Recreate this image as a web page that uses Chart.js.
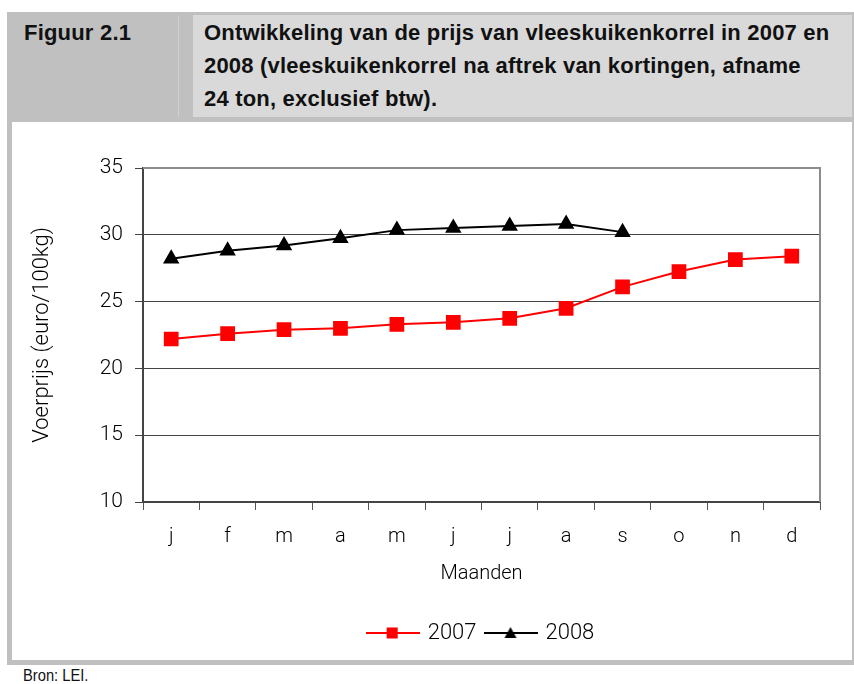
<!DOCTYPE html>
<html lang="nl">
<head>
<meta charset="UTF-8">
<title>Figuur 2.1</title>
<script src="https://cdn.jsdelivr.net/npm/chart.js"></script>
<style>
    body {
        margin: 0;
        padding: 0;
        background: white;
        width: 854px;
        height: 684px;
        position: relative;
        overflow: hidden;
        font-family: "Liberation Sans", Arial, sans-serif;
    }
    .frame {
        position: absolute;
        left: 7px;
        top: 12px;
        width: 847px;
        height: 653px;
        background: #c0c0c0;
    }
    .nr {
        position: absolute;
        left: 8px;
        top: 15px;
        width: 170px;
        height: 102px;
        background: #c0c0c0;
        border-right: 1px solid #d0d0d0;
    }
    .title-cell {
        position: absolute;
        left: 193px;
        top: 15px;
        width: 659px;
        height: 102px;
        background: #d9d9d9;
    }
    .nr span, .title-cell span {
        position: absolute;
        top: 1px;
        font-weight: bold;
        font-size: 22px;
        line-height: 33px;
        color: #111;
    }
    .nr span { left: 16px; letter-spacing: 0.2px; }
    .title-cell span { left: 11px; letter-spacing: 0.2px; white-space: nowrap; }
    .white {
        position: absolute;
        left: 12px;
        top: 122px;
        width: 840px;
        height: 538px;
        background: white;
    }
    .chart-box {
        position: absolute;
        left: 12px;
        top: 123px;
        width: 840px;
        height: 535px;
    }
    .bron {
        position: absolute;
        left: 23px;
        top: 667px;
        font-size: 16px;
        color: #111;
        transform: scaleX(0.92);
        transform-origin: left;
    }
</style>
</head>
<body>
<div class="frame"></div>
<div class="nr"><span>Figuur 2.1</span></div>
<div class="title-cell"><span>Ontwikkeling van de prijs van vleeskuikenkorrel in 2007 en<br>2008 (vleeskuikenkorrel na aftrek van kortingen, afname<br>24 ton, exclusief btw).</span></div>
<div class="white"></div>
<div class="chart-box">
    <canvas id="myChart" width="840" height="535"></canvas>
</div>
<div class="bron">Bron: LEI.</div>
<script>
    const months = ['j', 'f', 'm', 'a', 'm', 'j', 'j', 'a', 's', 'o', 'n', 'd'];
    const prices2007 = [22.2, 22.6, 22.9, 23.0, 23.3, 23.45, 23.75, 24.5, 26.1, 27.25, 28.15, 28.4];
    const prices2008 = [28.2, 28.8, 29.2, 29.75, 30.35, 30.5, 30.65, 30.8, 30.2];
    const yTicks = [10, 15, 20, 25, 30, 35];

    const chartFont = "Roboto";

    // legend icon: line with the marker in the middle
    function legendIcon(color, marker) {
        var c = document.createElement('canvas');
        c.width = 54;
        c.height = 16;
        var g = c.getContext('2d');
        g.strokeStyle = color;
        g.lineWidth = 2;
        g.beginPath();
        g.moveTo(0, 8);
        g.lineTo(54, 8);
        g.stroke();
        g.fillStyle = color;
        if (marker == 'rect') {
            g.fillRect(21, 2.5, 11, 11);
        } else {
            g.beginPath();
            g.moveTo(27, 2);
            g.lineTo(33, 13);
            g.lineTo(21, 13);
            g.closePath();
            g.fill();
        }
        return c;
    }

    // grey top and right edge of the plot area, legend centred under the plot
    const plotBorder = {
        id: 'plotBorder',
        afterLayout(chart) {
            const a = chart.chartArea;
            const lg = chart.legend;
            const shift = (a.left + a.right) / 2 - (lg.left + lg.right) / 2;
            lg.left += shift;
            lg.right += shift;
        },
        afterDraw(chart) {
            const a = chart.chartArea;
            const g = chart.ctx;
            g.save();
            g.strokeStyle = '#8c8c8c';
            g.lineWidth = 2;
            g.beginPath();
            g.moveTo(a.left, a.top);
            g.lineTo(a.right, a.top);
            g.lineTo(a.right, a.bottom);
            g.stroke();
            g.restore();
        }
    };

    const ctx = document.getElementById('myChart').getContext('2d');
    const myChart = new Chart(ctx, {
        type: 'line',
        data: {
            labels: months,
            datasets: [{
                label: '2007',
                data: prices2007,
                borderColor: '#ff0000',
                backgroundColor: '#ff0000',
                borderWidth: 2,
                pointStyle: 'rect',
                pointRadius: 9,
                pointHoverRadius: 9,
                tension: 0
            }, {
                label: '2008',
                data: prices2008,
                borderColor: '#000000',
                backgroundColor: '#000000',
                borderWidth: 2,
                pointStyle: 'triangle',
                pointRadius: 7.5,
                pointHoverRadius: 7.5,
                tension: 0
            }]
        },
        options: {
            responsive: false,
            animation: false,
            layout: {
                padding: { left: 11, right: 32, top: 45, bottom: 4 }
            },
            plugins: {
                tooltip: { enabled: false },
                legend: {
                    position: 'bottom',
                    labels: {
                        usePointStyle: true,
                        pointStyleWidth: 48,
                        padding: 10,
                        color: '#000',
                        font: { family: chartFont, size: 22, weight: 300 },
                        generateLabels: function (chart) {
                            return chart.data.datasets.map(function (ds, i) {
                                return {
                                    text: ds.label,
                                    pointStyle: legendIcon(ds.borderColor, ds.pointStyle),
                                    datasetIndex: i,
                                    lineWidth: 0,
                                    fontColor: '#000'
                                };
                            });
                        }
                    }
                }
            },
            scales: {
                x: {
                    offset: true,
                    afterFit: function (scale) { scale.height = 110; },
                    grid: {
                        offset: true,
                        drawOnChartArea: false,
                        drawTicks: true,
                        tickLength: 8,
                        color: '#555'
                    },
                    border: { color: '#444', width: 2 },
                    ticks: {
                        color: '#000',
                        padding: 15,
                        font: { family: chartFont, size: 20, weight: 300 }
                    },
                    title: {
                        display: true,
                        text: 'Maanden',
                        color: '#000',
                        padding: { top: 4, bottom: 26 },
                        font: { family: chartFont, size: 20, weight: 300 }
                    }
                },
                y: {
                    min: 10,
                    max: 35,
                    afterFit: function (scale) { scale.width = 120; },
                    afterBuildTicks: function (scale) {
                        scale.ticks = yTicks.map(function (v) { return { value: v }; });
                    },
                    grid: {
                        color: '#444',
                        lineWidth: 1,
                        tickLength: 8
                    },
                    border: { color: '#444', width: 2 },
                    ticks: {
                        color: '#000',
                        padding: 12,
                        font: { family: chartFont, size: 21, weight: 300 }
                    },
                    title: {
                        display: true,
                        text: 'Voerprijs (euro/100kg)',
                        color: '#000',
                        padding: { top: 6, bottom: 4 },
                        font: { family: chartFont, size: 22, weight: 300 }
                    }
                }
            }
        },
        plugins: [plotBorder]
    });
</script>
</body>
</html>
